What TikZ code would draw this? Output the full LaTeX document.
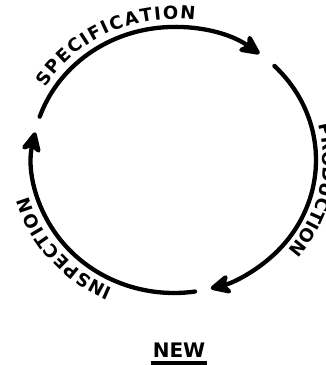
\documentclass[tikz,border=0pt]{standalone}
\usepackage{fontspec}
\setmainfont{DejaVu Sans}
\usetikzlibrary{arrows.meta,calc,decorations.text}
\begin{document}
\begin{tikzpicture}[x=1pt,y=1pt,
  cyc/.style={line width=4.3pt, line cap=round, -{Stealth[length=25pt,width=24pt,inset=7pt,round]}},
  arctext/.style={decorate, decoration={text along path, text align=fit to path,
     text={|\fontsize{18}{18}\selectfont\bfseries|#1}}},
  lbl/.style={font=\fontsize{20}{20}\selectfont\bfseries, inner sep=0pt, anchor=base}
]
\useasboundingbox (0,0) rectangle (326,365);
\coordinate (c) at (174,205);
% cycle arcs
\coordinate (a1) at ($(c)+(161:142pt and 133pt)$);
\coordinate (a2) at ($(c)+(45:142pt and 133pt)$);
\coordinate (a3) at ($(c)+(-81.5:142pt and 133pt)$);
\draw[cyc] (a1) arc[start angle=161, end angle=53, x radius=142pt, y radius=133pt];
\draw[cyc] (a2) arc[start angle=45, end angle=-75, x radius=142pt, y radius=133pt];
\draw[cyc] (a3) arc[start angle=-81.5, end angle=-192, x radius=142pt, y radius=133pt];
% labels along the arcs
\coordinate (t1) at ($(c)+(149:150pt and 141pt)$);
\coordinate (t2) at ($(c)+(14.5:149pt and 140pt)$);
\coordinate (t3) at ($(c)+(246:150pt and 141pt)$);
\path[arctext={SPECIFICATION}] (t1) arc[start angle=149, end angle=82, x radius=150pt, y radius=141pt];
\path[arctext={PRODUCTION}] (t2) arc[start angle=14.5, end angle=-40, x radius=149pt, y radius=140pt];
\path[arctext={INSPECTION}] (t3) arc[start angle=246, end angle=195, x radius=150pt, y radius=141pt];
% caption
\node[lbl] (new) at (179,7) {NEW};
\draw[line width=3pt] ($(new.base west)+(-2pt,-5pt)$) -- ($(new.base east)+(2pt,-5pt)$);
\end{tikzpicture}
\end{document}
